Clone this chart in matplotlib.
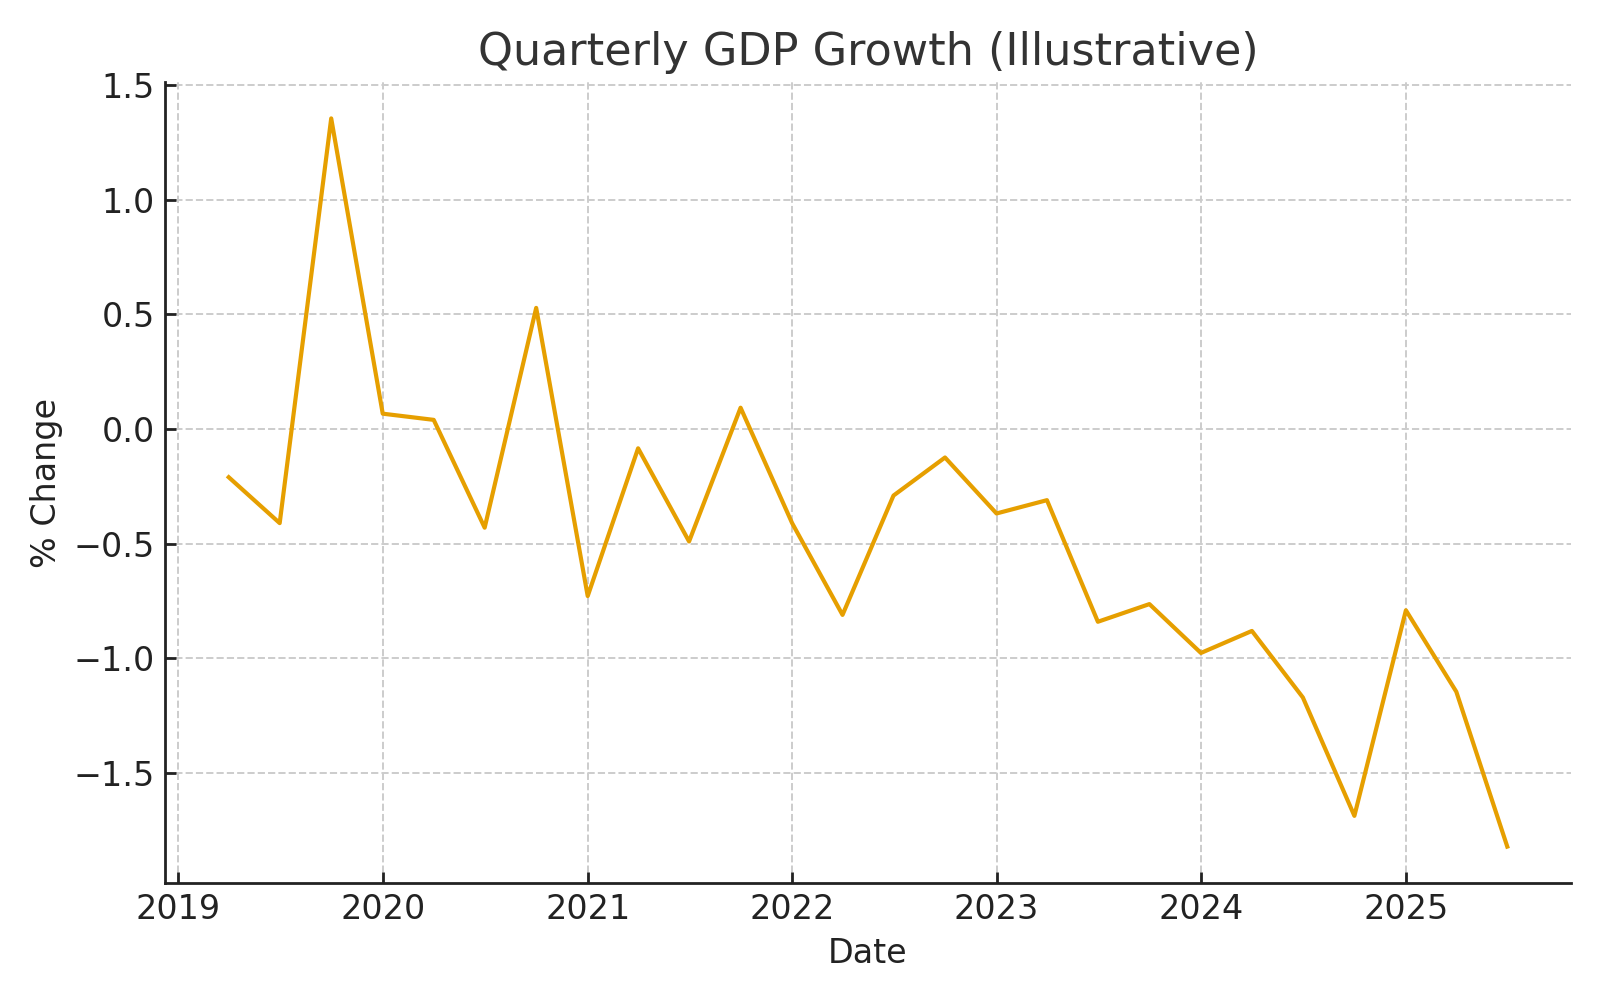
import pandas as pd
import matplotlib.pyplot as plt

# Quarterly dates and values
dates = pd.date_range("2019-04-01", "2025-07-01", freq="QS")
growth = [-0.21, -0.41, 1.354, 0.067, 0.04, -0.43, 0.528, -0.728, -0.084, -0.49,
          0.093, -0.41, -0.81, -0.29, -0.124, -0.368, -0.31, -0.84, -0.763, -0.976,
          -0.88, -1.17, -1.686, -0.79, -1.145, -1.82]

plt.rcParams['font.family'] = ['DejaVu Sans']

fig, ax = plt.subplots(figsize=(8, 5), dpi=200)
fig.subplots_adjust(left=0.103, right=0.982, top=0.918, bottom=0.117)

ax.plot(dates, growth, color="#E69F00", linewidth=1.5)

ax.set_title("Quarterly GDP Growth (Illustrative)", fontsize=16, color="#333333")
ax.set_xlabel("Date", fontsize=12, color="#222222")
ax.set_ylabel("% Change", fontsize=12, color="#222222")

# Grid & spines
ax.grid(True, linestyle='--', color="#cccccc", linewidth=0.7)
for s in ["top", "right"]:
    ax.spines[s].set_visible(False)
for s in ["left", "bottom"]:
    ax.spines[s].set_linewidth(1.0)
    ax.spines[s].set_color("#222222")
ax.tick_params(direction='in', labelsize=12, colors="#222222", length=4, width=1.0)

plt.savefig("out.png", dpi=200)
